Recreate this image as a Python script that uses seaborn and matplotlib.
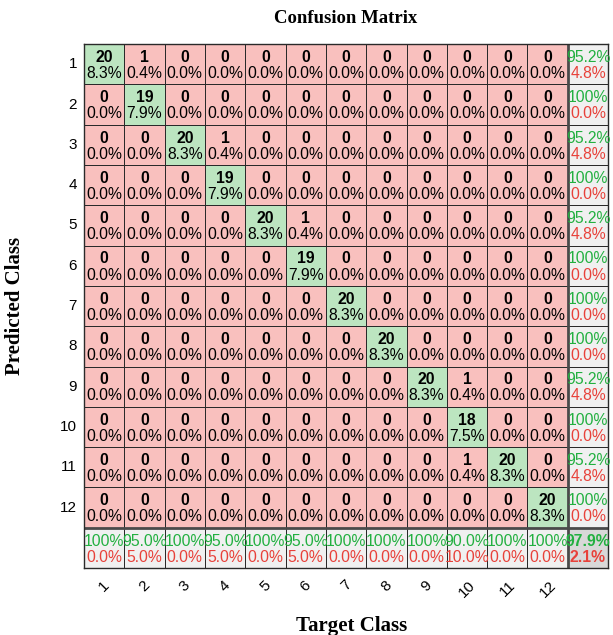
import numpy as np
import matplotlib
matplotlib.use("Agg")
import matplotlib.pyplot as plt
import seaborn as sns
from matplotlib.colors import ListedColormap

classes = [str(i) for i in range(1, 13)]
# confusion counts: rows = predicted class, cols = target class
counts = np.array([
    [20, 1, 0, 0, 0, 0, 0, 0, 0, 0, 0, 0],
    [0, 19, 0, 0, 0, 0, 0, 0, 0, 0, 0, 0],
    [0, 0, 20, 1, 0, 0, 0, 0, 0, 0, 0, 0],
    [0, 0, 0, 19, 0, 0, 0, 0, 0, 0, 0, 0],
    [0, 0, 0, 0, 20, 1, 0, 0, 0, 0, 0, 0],
    [0, 0, 0, 0, 0, 19, 0, 0, 0, 0, 0, 0],
    [0, 0, 0, 0, 0, 0, 20, 0, 0, 0, 0, 0],
    [0, 0, 0, 0, 0, 0, 0, 20, 0, 0, 0, 0],
    [0, 0, 0, 0, 0, 0, 0, 0, 20, 1, 0, 0],
    [0, 0, 0, 0, 0, 0, 0, 0, 0, 18, 0, 0],
    [0, 0, 0, 0, 0, 0, 0, 0, 0, 1, 20, 0],
    [0, 0, 0, 0, 0, 0, 0, 0, 0, 0, 0, 20],
])
row_correct = ["95.2%", "100%", "95.2%", "100%", "95.2%", "100%", "100%", "100%", "95.2%", "100%", "95.2%", "100%"]
row_wrong = ["4.8%", "0.0%", "4.8%", "0.0%", "4.8%", "0.0%", "0.0%", "0.0%", "4.8%", "0.0%", "4.8%", "0.0%"]
col_correct = ["100%", "95.0%", "100%", "95.0%", "100%", "95.0%", "100%", "100%", "100%", "90.0%", "100%", "100%"]
col_wrong = ["0.0%", "5.0%", "0.0%", "5.0%", "0.0%", "5.0%", "0.0%", "0.0%", "0.0%", "10.0%", "0.0%", "0.0%"]
overall = ["97.9%", "2.1%"]

n = len(classes)
total = counts.sum()

cat = np.zeros((n + 1, n + 1))
for i in range(n):
    cat[i, i] = 1
cat[n, :] = 2
cat[:, n] = 2
cat[n, n] = 3

cmap = ListedColormap(["#F9C0BE", "#BCE5C0", "#F0F0F0", "#D8D8D8"])

fig = plt.figure(figsize=(6.13, 6.35), dpi=100)
ax = fig.add_axes([0.137, 0.1055, 0.855, 0.825])
sns.heatmap(cat, cmap=cmap, vmin=-0.5, vmax=3.5, cbar=False, linewidths=0.6,
            linecolor="#2a2a2a", ax=ax, square=False)

green = "#22B040"
red = "#E8413A"
fam = ["Liberation Sans", "DejaVu Sans"]
fs = 11.3
fsb = 11.3
for i in range(n):
    for j in range(n):
        c = counts[i, j]
        ax.text(j + 0.5, i + 0.33, f"{c}", ha="center", va="center",
                fontsize=fsb, fontweight="bold", family=fam, color="black")
        ax.text(j + 0.5, i + 0.73, f"{100 * c / total:.1f}%", ha="center", va="center",
                fontsize=fs, family=fam, color="black")
for i in range(n):
    ax.text(n + 0.5, i + 0.33, row_correct[i], ha="center", va="center",
            fontsize=fs, family=fam, color=green)
    ax.text(n + 0.5, i + 0.73, row_wrong[i], ha="center", va="center",
            fontsize=fs, family=fam, color=red)
for j in range(n):
    ax.text(j + 0.5, n + 0.33, col_correct[j], ha="center", va="center",
            fontsize=fs, family=fam, color=green)
    ax.text(j + 0.5, n + 0.73, col_wrong[j], ha="center", va="center",
            fontsize=fs, family=fam, color=red)
ax.text(n + 0.5, n + 0.33, overall[0], ha="center", va="center",
        fontsize=fs, fontweight="bold", family=fam, color=green)
ax.text(n + 0.5, n + 0.73, overall[1], ha="center", va="center",
        fontsize=fs, fontweight="bold", family=fam, color=red)

ax.axvline(n, color="#4a4a4a", lw=2.0)
ax.axhline(n, color="#4a4a4a", lw=2.0)
for s in ax.spines.values():
    s.set_visible(True)
    s.set_color("#2a2a2a")
    s.set_linewidth(1.0)

ax.set_xticks(np.arange(n) + 0.5)
ax.set_xticklabels(classes, rotation=45, fontsize=11, family=fam)
ax.set_yticks(np.arange(n) + 0.5)
ax.set_yticklabels(classes, rotation=0, fontsize=11, family=fam)
ax.tick_params(length=0)
ax.tick_params(axis="y", pad=5)
ax.tick_params(axis="x", pad=7)

serif = ["Liberation Serif", "DejaVu Serif"]
ax.set_title("Confusion Matrix", fontsize=13.5, fontweight="bold", family=serif, pad=15)
ax.set_xlabel("Target Class", fontsize=15, fontweight="bold", family=serif)
ax.set_ylabel("Predicted Class", fontsize=15, fontweight="bold", family=serif)
ax.xaxis.set_label_coords(0.51, -0.092)
ax.yaxis.set_label_coords(-0.113, 0.5)

fig.savefig("out.png", dpi=100)
